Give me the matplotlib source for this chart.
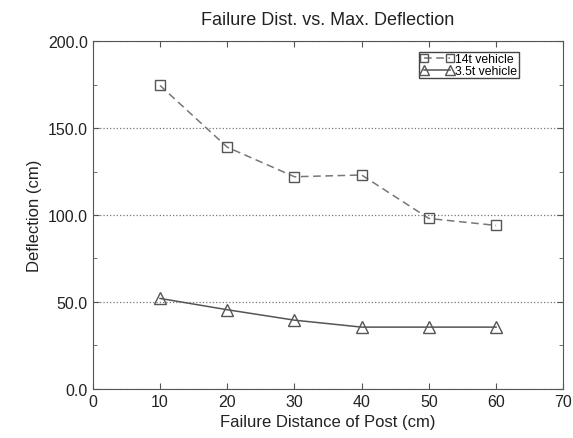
import matplotlib
matplotlib.use('Agg')
import matplotlib.pyplot as plt
from matplotlib.ticker import MultipleLocator, FormatStrFormatter

plt.rcParams['font.family'] = ['Liberation Sans', 'DejaVu Sans']

# Dados
dist = [10, 20, 30, 40, 50, 60]
defl_14t = [174.5, 139.0, 122.0, 123.0, 98.0, 94.0]
defl_35t = [52.0, 45.5, 39.5, 35.5, 35.5, 35.5]

fig = plt.figure(figsize=(5.73, 4.39), dpi=100)
ax = fig.add_axes([0.162, 0.112, 0.821, 0.792])

ax.plot(dist, defl_14t, color='#777777', linestyle=(0, (5, 3)), linewidth=1.1,
        marker='s', markersize=7, markerfacecolor='none', markeredgecolor='#555555',
        markeredgewidth=1.0, label='14t vehicle')
ax.plot(dist, defl_35t, color='#555555', linestyle='-', linewidth=1.1,
        marker='^', markersize=9, markerfacecolor='none', markeredgecolor='#555555',
        markeredgewidth=1.0, label='3.5t vehicle')

ax.set_xlim(0, 70)
ax.set_ylim(0, 200)
ax.xaxis.set_major_locator(MultipleLocator(10))
ax.yaxis.set_major_locator(MultipleLocator(50))
ax.yaxis.set_minor_locator(MultipleLocator(25))
ax.yaxis.set_major_formatter(FormatStrFormatter('%.1f'))
ax.tick_params(which='both', direction='in', top=True, right=True, colors='#555555',
               labelcolor='#222222', labelsize=11.5)
ax.tick_params(which='major', length=4)
ax.tick_params(which='minor', length=3)
for s in ax.spines.values():
    s.set_color('#555555')

ax.grid(True, axis='y', which='major', linestyle=':', color='#777777', linewidth=0.9)

ax.set_xlabel('Failure Distance of Post (cm)', fontsize=12, color='#222222')
ax.set_ylabel('Deflection (cm)', fontsize=12, color='#222222')
ax.set_title('Failure Dist. vs. Max. Deflection', fontsize=13, color='#222222', pad=12)

leg = ax.legend(loc='upper right', bbox_to_anchor=(0.905, 0.97), borderaxespad=0,
                numpoints=2, fontsize=8.8, fancybox=False, framealpha=1, edgecolor='#444444',
                handlelength=2.8, handletextpad=0.1, borderpad=0.1, labelspacing=0.0,
                markerscale=0.85)
leg.get_frame().set_linewidth(1.0)

plt.savefig('out.png', dpi=100)
